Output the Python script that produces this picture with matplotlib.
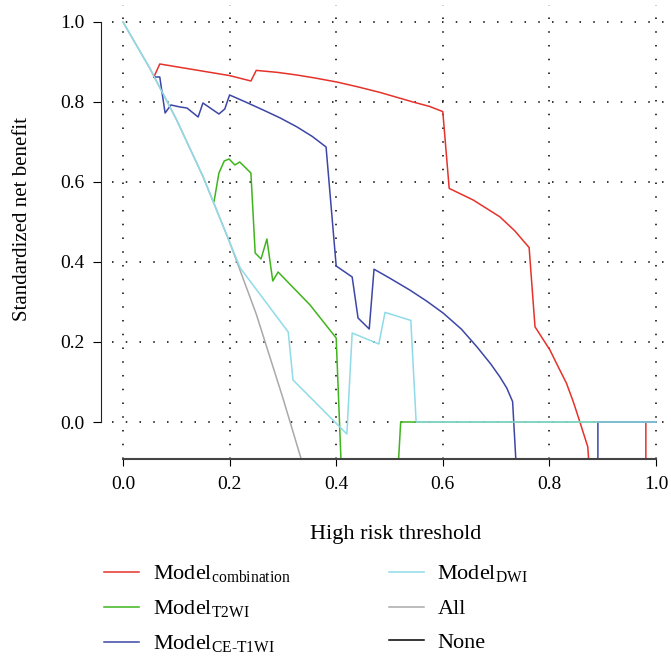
import matplotlib
matplotlib.use("Agg")
from matplotlib import pyplot as plt

plt.rcParams["font.family"] = ["Liberation Serif", "DejaVu Serif"]
plt.rcParams["mathtext.fontset"] = "custom"
plt.rcParams["mathtext.rm"] = "Liberation Serif"

# decision curve values
thr_comb = [0.058, 0.069, 0.20, 0.24, 0.25, 0.29, 0.326, 0.36, 0.401, 0.44, 0.482, 0.544, 0.575, 0.60,
            0.612, 0.657, 0.707, 0.735, 0.762, 0.773, 0.801, 0.815, 0.832, 0.845, 0.857, 0.872,
            0.875, 0.981, 0.981, 1.0]
nb_comb = [0.8625, 0.895, 0.866, 0.8525, 0.879, 0.874, 0.8675, 0.86, 0.85, 0.838, 0.824, 0.80, 0.789, 0.776,
           0.584, 0.555, 0.513, 0.478, 0.436, 0.238, 0.18, 0.142, 0.097, 0.05, 0.001, -0.062,
           -0.12, -0.12, 0.0, 0.0]

thr_t2 = [0.171, 0.18, 0.19, 0.199, 0.21, 0.219, 0.24, 0.248, 0.259, 0.27, 0.281, 0.291,
          0.351, 0.40, 0.409, 0.412, 0.516, 0.521, 1.0]
nb_t2 = [0.5525, 0.6225, 0.6525, 0.6575, 0.6425, 0.65, 0.6225, 0.4225, 0.4075, 0.4575, 0.3525, 0.375,
         0.2925, 0.21, -0.095, -0.12, -0.12, 0.0, 0.0]

thr_ce = [0.058, 0.069, 0.079, 0.09, 0.107, 0.12, 0.141, 0.15, 0.18, 0.191, 0.20, 0.23, 0.263, 0.295,
          0.326, 0.355, 0.381, 0.40, 0.43, 0.441, 0.462, 0.471, 0.50, 0.538, 0.57, 0.601, 0.635,
          0.664, 0.69, 0.707, 0.72, 0.731, 0.737, 0.74, 0.891, 0.891, 1.0]
nb_ce = [0.8625, 0.8625, 0.7725, 0.7925, 0.7875, 0.785, 0.7625, 0.7975, 0.77, 0.7825, 0.8175, 0.80, 0.78, 0.76,
         0.738, 0.714, 0.6875, 0.39, 0.3625, 0.26, 0.2325, 0.382, 0.36, 0.33, 0.302, 0.272, 0.232,
         0.188, 0.145, 0.113, 0.085, 0.051, -0.093, -0.12, -0.12, 0.0, 0.0]

thr_dwi = [0.0, 0.05, 0.1, 0.15, 0.206, 0.22, 0.31, 0.319, 0.42, 0.43, 0.48, 0.4916, 0.54, 0.55, 1.0]
nb_dwi = [1.0, 0.885, 0.757, 0.614, 0.43, 0.385, 0.225, 0.105, -0.03, 0.2225, 0.195, 0.274, 0.254, 0.0, 0.0]

thr_all = [0.0, 0.05, 0.1, 0.15, 0.2, 0.25, 0.3, 0.345]
nb_all = [1.0, 0.885, 0.757, 0.614, 0.45, 0.27, 0.06, -0.14]

fig = plt.figure(figsize=(6.71, 6.56), dpi=100)
ax = fig.add_axes([0.1674, 0.3003, 0.8281, 0.6921])

ax.plot(thr_all, nb_all, color="#a9a9a9", lw=1.1)
h_comb, = ax.plot(thr_comb, nb_comb, color="#e5322a", lw=1.1)
h_t2, = ax.plot(thr_t2, nb_t2, color="#3fb41c", lw=1.1)
h_ce, = ax.plot(thr_ce, nb_ce, color="#3c46a6", lw=1.1)
h_dwi, = ax.plot(thr_dwi, nb_dwi, color="#8fdbe8", lw=1.1)
h_all, = ax.plot([], [], color="#a9a9a9", lw=1.1)
h_none, = ax.plot([], [], color="black", lw=1.1)

ax.set_xlim(-0.02, 1.0225)
ax.set_ylim(-0.0925, 1.0425)
ticks = [0.0, 0.2, 0.4, 0.6, 0.8, 1.0]
ax.set_xticks(ticks)
ax.set_yticks(ticks)
ax.set_xticklabels([f"{t:.1f}" for t in ticks])
ax.set_yticklabels([f"{t:.1f}" for t in ticks])
ax.grid(True, color="black", linestyle=(0, (1, 8)), linewidth=1.1)

for s in ["top", "right"]:
    ax.spines[s].set_visible(False)
ax.spines["left"].set_position(("outward", 8))
ax.spines["left"].set_bounds(0, 1)
ax.spines["bottom"].set_bounds(0, 1)
ax.spines["left"].set_color("#222222")
ax.spines["bottom"].set_color("#444444")
ax.spines["bottom"].set_linewidth(1.5)
ax.tick_params(axis="x", direction="out", length=5, labelsize=14, pad=7)
ax.tick_params(axis="y", direction="out", length=6, labelsize=14, pad=6)

fig.text(0.589, 0.185, "High risk threshold", ha="center", va="center", fontsize=16)
fig.text(0.033, 0.666, "Standardized net benefit", ha="center", va="center",
         rotation=90, fontsize=15)

labels = ["Model$_{\\mathrm{combination}}$", "Model$_{\\mathrm{T2WI}}$", "Model$_{\\mathrm{CE\\text{-}T1WI}}$",
          "Model$_{\\mathrm{DWI}}$", "All", "None"]
fig.legend([h_comb, h_t2, h_ce, h_dwi, h_all, h_none], labels, ncol=2, frameon=False,
           loc="upper left", bbox_to_anchor=(0.125, 0.171), fontsize=16,
           handlelength=1.6, handletextpad=0.6, columnspacing=4.4, labelspacing=0.6)

fig.savefig("out.png", dpi=100)
